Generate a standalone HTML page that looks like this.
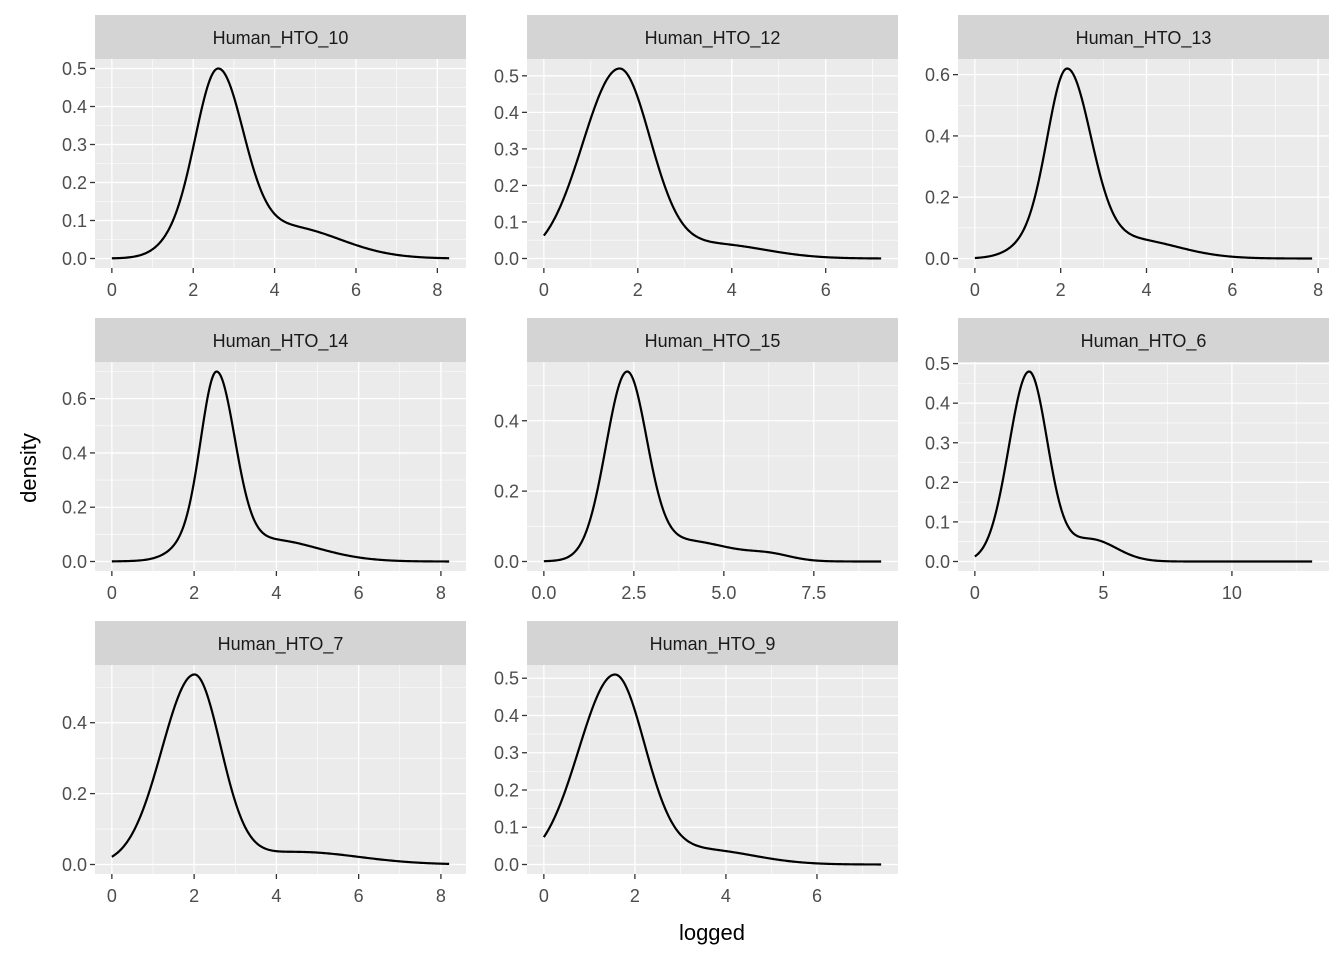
<!DOCTYPE html>
<html><head><meta charset="utf-8"><style>
html,body{margin:0;padding:0;background:#fff;}
svg{display:block;font-family:"Liberation Sans",Arial,sans-serif;}
</style></head><body>
<svg id="s" width="1344" height="960" xmlns="http://www.w3.org/2000/svg"></svg>
<script>
var P=[
 {t:"Human_HTO_10",c:0,r:0,xmin:0,xmax:8.29,P:0.5,xt:[0,2,4,6,8],yt:[0,.1,.2,.3,.4,.5],
  m:[[0.47,2.6,0.55,0.62],[0.085,4.3,1.3,1.3],[0.03,1.6,0.5,0.5]]},
 {t:"Human_HTO_12",c:1,r:0,xmin:0,xmax:7.18,P:0.52,xt:[0,2,4,6],yt:[0,.1,.2,.3,.4,.5],
  m:[[0.52,1.6,0.78,0.66],[0.04,3.6,1.1,1.1]]},
 {t:"Human_HTO_13",c:2,r:0,xmin:0,xmax:7.86,P:0.62,xt:[0,2,4,6,8],yt:[0,.2,.4,.6],
  m:[[0.6,2.15,0.46,0.55],[0.065,3.6,1.1,1.1],[0.04,1.3,0.5,0.5]]},
 {t:"Human_HTO_14",c:0,r:1,xmin:0,xmax:8.2,P:0.70,xt:[0,2,4,6,8],yt:[0,.2,.4,.6],
  m:[[0.67,2.55,0.38,0.44],[0.085,3.8,1.2,1.2],[0.05,1.9,0.45,0.45]]},
 {t:"Human_HTO_15",c:1,r:1,xmin:0,xmax:9.37,P:0.54,xt:[0,2.5,5,7.5],xd:1,yt:[0,.2,.4],
  m:[[0.52,2.3,0.58,0.55],[0.06,3.9,1.3,1.3],[0.015,6.3,0.6,0.6]]},
 {t:"Human_HTO_6",c:2,r:1,xmin:0,xmax:13.12,P:0.48,xt:[0,5,10],yt:[0,.1,.2,.3,.4,.5],
  m:[[0.47,2.1,0.78,0.72],[0.055,4.5,1.0,1.0]]},
 {t:"Human_HTO_7",c:0,r:2,xmin:0,xmax:8.2,P:0.536,xt:[0,2,4,6,8],yt:[0,.2,.4],
  m:[[0.52,2.0,0.79,0.64],[0.035,4.5,1.5,1.5]]},
 {t:"Human_HTO_9",c:1,r:2,xmin:0,xmax:7.41,P:0.51,xt:[0,2,4,6],yt:[0,.1,.2,.3,.4,.5],
  m:[[0.51,1.55,0.79,0.66],[0.04,3.5,1.1,1.1]]}
];
var colX=[95,527,958],W=371,rowY=[15,318,621],SH=44,PH=209;
var o=[];
function f(m,x){var y=0;m.forEach(function(c){var s=x<c[1]?c[2]:c[3];y+=c[0]*Math.exp(-(x-c[1])*(x-c[1])/(2*s*s));});return y;}
P.forEach(function(p){
 var L=colX[p.c],T=rowY[p.r]+SH,B=T+PH,R=L+W;
 var rg=p.xmax-p.xmin,x0=p.xmin-0.05*rg,x1=p.xmax+0.05*rg;
 var sx=function(v){return L+(v-x0)/(x1-x0)*W;};
 var mx=0,N=300,pts=[];
 for(var i=0;i<=N;i++){var x=p.xmin+rg*i/N;var y=f(p.m,x);pts.push([x,y]);if(y>mx)mx=y;}
 var k=p.P/mx;
 var y0=-0.05*p.P,y1=1.05*p.P;
 var sy=function(v){return B-(v-y0)/(y1-y0)*PH;};
 o.push('<rect x="'+L+'" y="'+rowY[p.r]+'" width="'+W+'" height="'+SH+'" fill="#d4d4d4"/>');
 o.push('<text x="'+(L+W/2)+'" y="'+(rowY[p.r]+29)+'" font-size="18" fill="#1a1a1a" text-anchor="middle">'+p.t+'</text>');
 o.push('<rect x="'+L+'" y="'+T+'" width="'+W+'" height="'+PH+'" fill="#ebebeb"/>');
 var xs=p.xt[1]-p.xt[0];
 for(var v=p.xt[0]-xs/2;v<=x1;v+=xs){if(v>=x0)o.push('<line x1="'+sx(v)+'" x2="'+sx(v)+'" y1="'+T+'" y2="'+B+'" stroke="#fff" stroke-width="0.6"/>');}
 var ys=p.yt[1]-p.yt[0];
 for(var v=p.yt[0]-ys/2;v<=y1;v+=ys){if(v>=y0)o.push('<line x1="'+L+'" x2="'+R+'" y1="'+sy(v)+'" y2="'+sy(v)+'" stroke="#fff" stroke-width="0.6"/>');}
 p.xt.forEach(function(v){var X=sx(v);
  o.push('<line x1="'+X+'" x2="'+X+'" y1="'+T+'" y2="'+B+'" stroke="#fff" stroke-width="1.3"/>');
  o.push('<line x1="'+X+'" x2="'+X+'" y1="'+B+'" y2="'+(B+5)+'" stroke="#333" stroke-width="1.3"/>');
  var lab=p.xd?v.toFixed(1):String(v);
  o.push('<text x="'+X+'" y="'+(B+28)+'" font-size="18" fill="#4d4d4d" text-anchor="middle">'+lab+'</text>');});
 p.yt.forEach(function(v){var Y=sy(v);
  o.push('<line x1="'+L+'" x2="'+R+'" y1="'+Y+'" y2="'+Y+'" stroke="#fff" stroke-width="1.3"/>');
  o.push('<line x1="'+(L-5)+'" x2="'+L+'" y1="'+Y+'" y2="'+Y+'" stroke="#333" stroke-width="1.3"/>');
  o.push('<text x="'+(L-8)+'" y="'+(Y+6.5)+'" font-size="18" fill="#4d4d4d" text-anchor="end">'+v.toFixed(1)+'</text>');});
 var d=pts.map(function(q,i){return (i?'L':'M')+sx(q[0]).toFixed(2)+' '+sy(q[1]*k).toFixed(2);}).join('');
 o.push('<path d="'+d+'" fill="none" stroke="#000" stroke-width="2.2"/>');
});
o.push('<text x="712" y="940" font-size="22" fill="#000" text-anchor="middle">logged</text>');
o.push('<text transform="translate(36,468) rotate(-90)" font-size="22" fill="#000" text-anchor="middle">density</text>');
document.getElementById('s').innerHTML=o.join('');
</script>
</body></html>
